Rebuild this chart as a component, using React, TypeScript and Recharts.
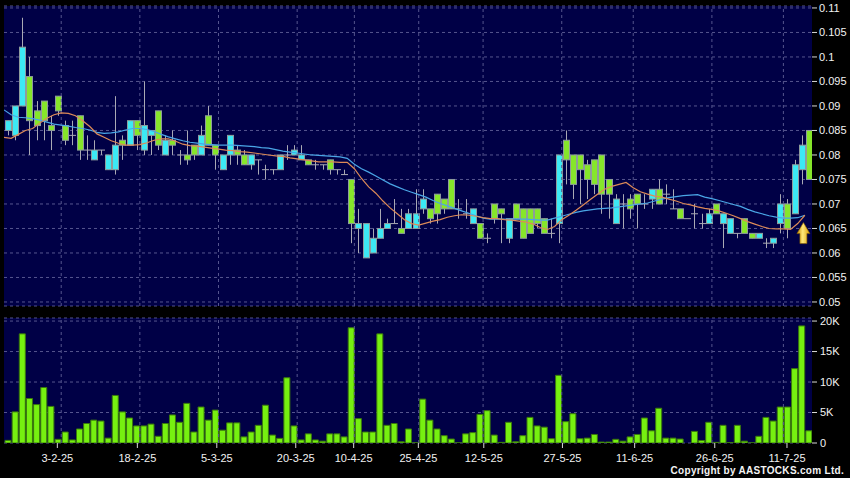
import React from "react"
import { ComposedChart, Bar, Line, XAxis, YAxis, CartesianGrid, ReferenceLine, ReferenceDot } from "recharts"

// Daily candles, one entry per trading bar (113 bars).
const opens = [
  0.085, 0.084, 0.090, 0.096, 0.089, 0.091, 0.086, 0.092, 0.086, 0.084,
  0.088, 0.081, 0.079, 0.081, 0.077, 0.077, 0.083, 0.082, 0.087, 0.081,
  0.084, 0.089, 0.080, 0.083, 0.080, 0.080, 0.082, 0.080, 0.088, 0.082,
  0.077, 0.080, 0.081, 0.080, 0.078, 0.079, 0.077, 0.077, 0.077, 0.080,
  0.080, 0.079, 0.079, 0.078, 0.078, 0.079, 0.077, 0.076, 0.075, 0.065,
  0.059, 0.060, 0.063, 0.065, 0.066, 0.065, 0.065, 0.065, 0.069, 0.069,
  0.072, 0.071, 0.075, 0.069, 0.068, 0.066, 0.066, 0.063, 0.070, 0.069,
  0.063, 0.070, 0.069, 0.069, 0.069, 0.067, 0.064, 0.066, 0.083, 0.080,
  0.080, 0.078, 0.079, 0.080, 0.075, 0.066, 0.070, 0.071, 0.072, 0.070,
  0.071, 0.073, 0.072, 0.069, 0.069, 0.067, 0.068, 0.066, 0.066, 0.070,
  0.066, 0.064, 0.064, 0.067, 0.064, 0.063, 0.062, 0.062, 0.066, 0.070,
  0.068, 0.077, 0.085,
]
const closes = [
  0.087, 0.090, 0.102, 0.087, 0.086, 0.087, 0.085, 0.089, 0.083, 0.084,
  0.081, 0.081, 0.081, 0.081, 0.080, 0.082, 0.082, 0.087, 0.084, 0.086,
  0.085, 0.082, 0.083, 0.082, 0.080, 0.079, 0.080, 0.084, 0.082, 0.080,
  0.080, 0.084, 0.080, 0.078, 0.080, 0.079, 0.077, 0.077, 0.080, 0.080,
  0.081, 0.080, 0.078, 0.078, 0.078, 0.077, 0.077, 0.076, 0.066, 0.066,
  0.066, 0.063, 0.065, 0.066, 0.066, 0.064, 0.068, 0.068, 0.071, 0.067,
  0.068, 0.069, 0.069, 0.069, 0.068, 0.069, 0.063, 0.063, 0.067, 0.068,
  0.067, 0.067, 0.063, 0.064, 0.066, 0.064, 0.064, 0.080, 0.079, 0.074,
  0.077, 0.075, 0.074, 0.072, 0.072, 0.071, 0.070, 0.069, 0.070, 0.070,
  0.073, 0.070, 0.072, 0.069, 0.067, 0.067, 0.068, 0.066, 0.068, 0.068,
  0.068, 0.067, 0.064, 0.064, 0.063, 0.064, 0.062, 0.063, 0.070, 0.065,
  0.078, 0.082, 0.075,
]
const highs = [
  0.087, 0.090, 0.108, 0.100, 0.091, 0.091, 0.088, 0.092, 0.087, 0.087,
  0.088, 0.084, 0.083, 0.081, 0.080, 0.092, 0.084, 0.087, 0.087, 0.095,
  0.085, 0.089, 0.084, 0.085, 0.081, 0.085, 0.082, 0.086, 0.090, 0.082,
  0.080, 0.084, 0.082, 0.081, 0.080, 0.079, 0.078, 0.077, 0.080, 0.082,
  0.082, 0.082, 0.079, 0.079, 0.078, 0.079, 0.077, 0.077, 0.075, 0.069,
  0.066, 0.065, 0.069, 0.067, 0.071, 0.069, 0.069, 0.073, 0.073, 0.069,
  0.072, 0.071, 0.075, 0.071, 0.071, 0.069, 0.066, 0.064, 0.070, 0.069,
  0.067, 0.070, 0.069, 0.069, 0.069, 0.067, 0.067, 0.080, 0.085, 0.080,
  0.080, 0.079, 0.079, 0.080, 0.075, 0.072, 0.072, 0.072, 0.072, 0.072,
  0.073, 0.075, 0.074, 0.073, 0.069, 0.067, 0.070, 0.068, 0.069, 0.070,
  0.068, 0.067, 0.064, 0.067, 0.064, 0.064, 0.063, 0.063, 0.072, 0.071,
  0.079, 0.084, 0.085,
]
const lows = [
  0.084, 0.083, 0.090, 0.080, 0.083, 0.083, 0.081, 0.088, 0.082, 0.082,
  0.079, 0.079, 0.079, 0.080, 0.077, 0.076, 0.079, 0.082, 0.081, 0.080,
  0.080, 0.081, 0.080, 0.080, 0.078, 0.078, 0.079, 0.080, 0.082, 0.077,
  0.077, 0.078, 0.078, 0.078, 0.077, 0.076, 0.075, 0.076, 0.077, 0.079,
  0.080, 0.079, 0.078, 0.077, 0.077, 0.076, 0.076, 0.076, 0.062, 0.060,
  0.059, 0.060, 0.063, 0.065, 0.066, 0.064, 0.065, 0.065, 0.068, 0.066,
  0.066, 0.068, 0.069, 0.067, 0.067, 0.066, 0.063, 0.062, 0.066, 0.062,
  0.062, 0.067, 0.063, 0.064, 0.065, 0.064, 0.063, 0.062, 0.074, 0.071,
  0.070, 0.071, 0.072, 0.068, 0.067, 0.066, 0.065, 0.067, 0.065, 0.069,
  0.069, 0.070, 0.070, 0.069, 0.067, 0.067, 0.065, 0.065, 0.066, 0.068,
  0.061, 0.064, 0.063, 0.064, 0.063, 0.063, 0.061, 0.061, 0.064, 0.063,
  0.068, 0.074, 0.075,
]
// volume in thousands
const volumes = [
  0.43, 5.1, 17.9, 7.3, 6.3, 9.1, 6.0, 0.6, 1.8, 0.5,
  2.3, 3.2, 3.75, 3.6, 0.8, 7.8, 5.1, 4.1, 2.8, 2.8,
  3.1, 1.1, 3.2, 4.6, 3.4, 6.5, 1.8, 5.9, 3.75, 5.4,
  2.1, 3.3, 3.3, 1.0, 1.8, 2.9, 6.2, 1.3, 0.76, 10.7,
  2.8, 0.5, 1.5, 0.5, 0.3, 1.5, 1.5, 1.0, 18.9, 4.0,
  1.8, 1.8, 17.9, 2.9, 3.2, 0.2, 2.3, 0.03, 7.2, 3.75,
  2.3, 1.2, 0.65, 0.02, 1.5, 1.7, 4.7, 5.3, 1.3, 0.1,
  3.4, 0.2, 1.2, 4.2, 2.8, 2.6, 0.7, 11.1, 3.5, 4.8,
  0.7, 0.8, 1.4, 0.15, 0.15, 0.6, 0.3, 1.0, 1.4, 4.1,
  2.0, 5.7, 0.8, 0.8, 0.65, 0, 1.9, 0.4, 3.4, 0.1,
  2.9, 0.05, 2.9, 0.3, 0.02, 1.1, 4.2, 3.6, 5.9, 5.9,
  12.2, 19.2, 2.0,
]
// moving averages as drawn (plotted at the left edge of each bar)
const maShort = [
  0.0836, 0.0834, 0.0842, 0.085, 0.0854, 0.0865, 0.0875, 0.0882, 0.0886, 0.0885,
  0.088, 0.087, 0.0858, 0.0843, 0.0836, 0.0829, 0.0824, 0.082, 0.082, 0.0821,
  0.0825, 0.083, 0.0833, 0.0833, 0.0828, 0.0822, 0.0819, 0.0818, 0.0816, 0.0814,
  0.0812, 0.081, 0.0809, 0.0807, 0.0806, 0.0804, 0.0802, 0.08, 0.0798, 0.0797,
  0.0794, 0.0792, 0.079, 0.0788, 0.0786, 0.0786, 0.0786, 0.0785, 0.0785, 0.0772,
  0.0752, 0.0735, 0.0722, 0.0706, 0.0692, 0.068, 0.0668, 0.066, 0.0657, 0.0661,
  0.0665, 0.0668, 0.0673, 0.0676, 0.0678, 0.0677, 0.0675, 0.0672, 0.067, 0.067,
  0.0668, 0.0667, 0.0665, 0.0663, 0.0659, 0.0652, 0.0648, 0.0654, 0.0668, 0.0677,
  0.0687, 0.0698, 0.0709, 0.072, 0.073, 0.0736, 0.074, 0.0744, 0.0733, 0.0725,
  0.072, 0.0716, 0.0714, 0.071, 0.0706, 0.0701, 0.0698, 0.0694, 0.0691, 0.0689,
  0.0686, 0.0681, 0.0676, 0.067, 0.0664, 0.0659, 0.0654, 0.065, 0.0649, 0.0649,
  0.0648, 0.066, 0.0677,
]
const maLong = [
  0.0892, 0.0882, 0.0877, 0.0876, 0.0874, 0.0871, 0.0867, 0.0863, 0.0861, 0.0859,
  0.0856, 0.0854, 0.0851, 0.0846, 0.0844, 0.0845, 0.0847, 0.0851, 0.0854, 0.0854,
  0.0852, 0.0848, 0.0842, 0.0837, 0.0833, 0.0829, 0.0826, 0.0824, 0.0822, 0.0821,
  0.082, 0.082, 0.082, 0.0819, 0.0818, 0.0817, 0.0815, 0.0814, 0.0811, 0.0808,
  0.0806, 0.0804, 0.0802, 0.08, 0.0799, 0.0798, 0.0797, 0.0796, 0.0793, 0.0781,
  0.0772, 0.0765, 0.0757, 0.0749, 0.0741, 0.0735, 0.0729, 0.0724, 0.0719, 0.0714,
  0.0707, 0.0701, 0.0696, 0.0691, 0.0686, 0.0681, 0.0676, 0.0671, 0.0669, 0.0669,
  0.0669, 0.0669, 0.0669, 0.0669, 0.0668, 0.0667, 0.0667, 0.0671, 0.0675, 0.0679,
  0.0683, 0.0686, 0.0688, 0.069, 0.0691, 0.0692, 0.0694, 0.0696, 0.0698, 0.07,
  0.0702, 0.0706, 0.071, 0.0713, 0.0715, 0.0717, 0.0718, 0.0719, 0.0714, 0.0711,
  0.0707, 0.0703, 0.0699, 0.0695, 0.0689, 0.0684, 0.068, 0.0676, 0.0673, 0.0671,
  0.0671, 0.0672, 0.0677,
]

const tickLabels = ["3-2-25", "18-2-25", "5-3-25", "20-3-25", "10-4-25", "25-4-25", "12-5-25", "27-5-25", "11-6-25", "26-6-25", "11-7-25"]
const tickPos = [6.96, 18.15, 29.26, 40.3, 48.4, 57.45, 66.6, 77.6, 87.7, 98.9, 109.0]
const gridPos = [7.5, 18.5, 29.5, 40.5, 48.5, 57.5, 66.5, 77.5, 87.5, 98.5, 108.5]
const priceTicks = [0.05, 0.055, 0.06, 0.065, 0.07, 0.075, 0.08, 0.085, 0.09, 0.095, 0.1, 0.105, 0.11]
const volTicks = [0, 5, 10, 15, 20]
const arrowAt = { i: 111.3, p: 0.0662 }

const FONT = "'Liberation Sans', Arial, sans-serif"
const NAVY = "#000046"
const GRID = "#55558e"
const CYAN = "#3ce9f4"
const GREEN = "#86e62a"
const EDGE = "#8e9c9c"
const WICK = "#a9a9b4"
const ORANGE = "#dc8a58"
const BLUE = "#4aa6e6"
const VOL = "#76f010"
const VOL_EDGE = "#3b7a0c"

const rows = opens.map((o, i) => ({
  i,
  j: i - 0.5,
  o,
  c: closes[i],
  h: highs[i],
  l: lows[i],
  range: [lows[i], highs[i]],
  v: volumes[i],
  maShort: maShort[i],
  maLong: maLong[i],
}))

const DOMAIN_X: [number, number] = [-0.5, 112.5]
const axisTick = { fill: "#f2f2f2", fontSize: 11, fontFamily: FONT }

function Candle(props: any) {
  const { x, y, width, height, payload } = props
  if (x == null || y == null) return null
  const { o, c, h, l } = payload
  const top = Math.min(y, y + height)
  const span = Math.abs(height)
  const ppu = h > l ? span / (h - l) : 0
  const toY = (v: number) => top + (h - v) * ppu
  const cx = Math.round(x + width / 2) + 0.5
  const bodyTop = toY(Math.max(o, c))
  const bodyBot = toY(Math.min(o, c))
  return (
    <g>
      <line x1={cx} x2={cx} y1={top} y2={top + span} stroke={WICK} strokeWidth={1} />
      {o === c ? (
        <line x1={cx - 3.5} x2={cx + 3.5} y1={bodyTop} y2={bodyTop} stroke={WICK} strokeWidth={1} />
      ) : (
        <rect x={cx - 3} y={bodyTop} width={6} height={bodyBot - bodyTop} fill={c > o ? CYAN : GREEN} stroke={EDGE} strokeWidth={1} />
      )}
    </g>
  )
}

function UpArrow(props: any) {
  const { cx, cy } = props
  if (cx == null || cy == null) return null
  return (
    <g>
      <defs>
        <linearGradient id="arrowFill" x1="0" y1="0" x2="1" y2="0">
          <stop offset="0%" stopColor="#c98a00" />
          <stop offset="45%" stopColor="#ffe87a" />
          <stop offset="100%" stopColor="#d99a00" />
        </linearGradient>
      </defs>
      <path
        d={`M${cx},${cy} L${cx + 6.5},${cy + 11} L${cx + 3.5},${cy + 11} L${cx + 3.5},${cy + 21} L${cx - 3.5},${cy + 21} L${cx - 3.5},${cy + 11} L${cx - 6.5},${cy + 11} Z`}
        fill="url(#arrowFill)"
        stroke="#8a6200"
        strokeWidth={0.6}
      />
    </g>
  )
}

function dateLabel(v: number) {
  const k = tickPos.indexOf(v)
  return k >= 0 ? tickLabels[k] : ""
}

export default function App() {
  return (
    <div style={{ position: "absolute", left: 0, top: 0, width: 850, height: 478, background: "#000", overflow: "hidden", fontFamily: FONT }}>
      {/* Price panel */}
      <div style={{ position: "absolute", left: 0, top: 0 }}>
        <ComposedChart width={850} height={310} data={rows} margin={{ top: 6, right: 0, bottom: 4, left: 4 }}>
          <CartesianGrid fill={NAVY} stroke={GRID} strokeDasharray="3 3" vertical={false} />
          <XAxis dataKey="i" type="number" domain={DOMAIN_X} hide allowDataOverflow />
          <XAxis xAxisId="ma" dataKey="j" type="number" domain={DOMAIN_X} hide allowDataOverflow />
          <YAxis
            orientation="right"
            width={38}
            domain={[0.04918, 0.1104]}
            ticks={priceTicks}
            interval={0}
            allowDataOverflow
            axisLine={false}
            tickLine={{ stroke: "#d8d8d8" }}
            tickSize={5}
            tickMargin={2}
            tick={axisTick}
          />
          {gridPos.map((g) => (
            <ReferenceLine key={g} x={g} stroke={GRID} strokeDasharray="3 3" />
          ))}
          <Bar dataKey="range" barSize={6} shape={(p: any) => <Candle {...p} />} isAnimationActive={false} />
          <Line xAxisId="ma" dataKey="maLong" type="linear" stroke={BLUE} strokeWidth={1.2} dot={false} activeDot={false} isAnimationActive={false} />
          <Line xAxisId="ma" dataKey="maShort" type="linear" stroke={ORANGE} strokeWidth={1.2} dot={false} activeDot={false} isAnimationActive={false} />
          <ReferenceDot x={arrowAt.i} y={arrowAt.p} r={0} shape={(p: any) => <UpArrow {...p} />} />
        </ComposedChart>
      </div>

      {/* Volume panel */}
      <div style={{ position: "absolute", left: 0, top: 310 }}>
        <ComposedChart width={850} height={168} data={rows} margin={{ top: 8, right: 0, bottom: 5, left: 4 }}>
          <CartesianGrid fill={NAVY} stroke={GRID} strokeDasharray="3 3" vertical={false} />
          <XAxis
            dataKey="i"
            type="number"
            domain={DOMAIN_X}
            ticks={tickPos}
            interval={0}
            tickFormatter={dateLabel}
            axisLine={false}
            tickLine={{ stroke: "#d8d8d8" }}
            tickSize={5}
            tickMargin={6}
            height={30}
            tick={axisTick}
            allowDataOverflow
          />
          <YAxis
            orientation="right"
            width={38}
            domain={[0, 20.5]}
            ticks={volTicks}
            interval={0}
            allowDataOverflow
            axisLine={false}
            tickLine={{ stroke: "#d8d8d8" }}
            tickSize={5}
            tickMargin={3}
            tick={axisTick}
            tickFormatter={(v: number) => (v === 0 ? "0" : `${v}K`)}
          />
          {gridPos.map((g) => (
            <ReferenceLine key={g} x={g} stroke={GRID} strokeDasharray="3 3" />
          ))}
          <Bar dataKey="v" barSize={6} fill={VOL} stroke={VOL_EDGE} strokeWidth={1} isAnimationActive={false} />
        </ComposedChart>
      </div>

      <div style={{ position: "absolute", right: 6, top: 465, color: "#f4f4f4", fontSize: 10, fontWeight: "bold", lineHeight: "12px", letterSpacing: 0.3 }}>
        Copyright by AASTOCKS.com Ltd.
      </div>
    </div>
  )
}
